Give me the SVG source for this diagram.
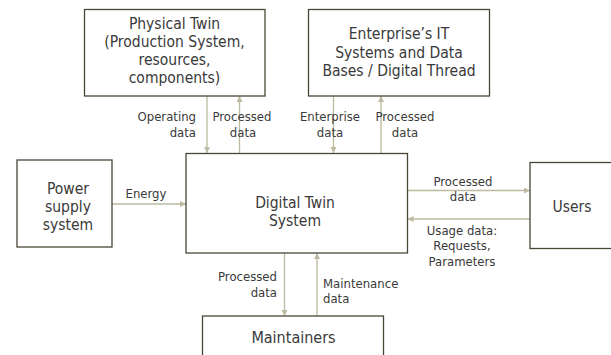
<svg xmlns="http://www.w3.org/2000/svg" width="611" height="355" viewBox="0 0 611 355">
<style>
.box{fill:#fff;stroke:#4a4637;stroke-width:1.3}
.t{font-family:"DejaVu Sans Condensed","DejaVu Sans",sans-serif;font-size:15.5px;fill:#3a3a3a;text-anchor:middle}
.l{font-family:"DejaVu Sans Condensed","DejaVu Sans",sans-serif;font-size:13px;fill:#3a3a3a}
.c{stroke:#bcbaa0;stroke-width:1.3;fill:none;marker-end:url(#ah)}
</style>
<defs>
<marker id="ah" markerUnits="userSpaceOnUse" markerWidth="8" markerHeight="8" refX="6" refY="3" orient="auto">
<path d="M0,0 L6,3 L0,6 Z" fill="#bcbaa0"/>
</marker>
</defs>
<rect width="611" height="355" fill="#fff"/>
<g id="connectors">
<line class="c" x1="207" y1="96" x2="207" y2="153"/>
<line class="c" x1="239.5" y1="153" x2="239.5" y2="96"/>
<line class="c" x1="333.5" y1="96" x2="333.5" y2="153"/>
<line class="c" x1="381" y1="153" x2="381" y2="96"/>
<line class="c" x1="112" y1="204" x2="186" y2="204"/>
<line class="c" x1="407.5" y1="190.5" x2="530" y2="190.5"/>
<line class="c" x1="530" y1="219" x2="407.5" y2="219"/>
<line class="c" x1="284.5" y1="253" x2="284.5" y2="316"/>
<line class="c" x1="317" y1="316" x2="317" y2="253"/>
</g>
<g id="labels">
<text class="l" text-anchor="end" x="196" y="121">Operating</text>
<text class="l" text-anchor="end" x="196" y="137">data</text>
<text class="l" text-anchor="middle" x="242" y="121">Processed</text>
<text class="l" text-anchor="middle" x="243" y="137">data</text>
<text class="l" text-anchor="middle" x="330" y="121">Enterprise</text>
<text class="l" text-anchor="middle" x="330" y="137">data</text>
<text class="l" text-anchor="middle" x="405" y="121">Processed</text>
<text class="l" text-anchor="middle" x="405" y="137">data</text>
<text class="l" text-anchor="middle" x="146" y="198">Energy</text>
<text class="l" text-anchor="middle" x="463" y="186">Processed</text>
<text class="l" text-anchor="middle" x="463" y="201">data</text>
<text class="l" text-anchor="middle" x="462" y="235">Usage data:</text>
<text class="l" text-anchor="middle" x="462" y="250">Requests,</text>
<text class="l" text-anchor="middle" x="462" y="266">Parameters</text>
<text class="l" text-anchor="end" x="277" y="281">Processed</text>
<text class="l" text-anchor="end" x="277" y="297">data</text>
<text class="l" x="323" y="288">Maintenance</text>
<text class="l" x="323" y="303">data</text>
</g>
<g id="physical-twin">
<rect class="box" x="84.5" y="9.5" width="180.5" height="86.5"/>
<text class="t" x="174.5" y="29">Physical Twin</text>
<text class="t" x="174.5" y="47">(Production System,</text>
<text class="t" x="174.5" y="65">resources,</text>
<text class="t" x="174.5" y="83">components)</text>
</g>
<g id="enterprise-it">
<rect class="box" x="308.5" y="9.5" width="181" height="86.5"/>
<text class="t" x="399" y="39">Enterprise’s IT</text>
<text class="t" x="399" y="57.5">Systems and Data</text>
<text class="t" x="399" y="76">Bases / Digital Thread</text>
</g>
<g id="power-supply">
<rect class="box" x="17" y="160" width="95" height="87"/>
<text class="t" x="68" y="194">Power</text>
<text class="t" x="68" y="212">supply</text>
<text class="t" x="68" y="230">system</text>
</g>
<g id="digital-twin">
<rect class="box" x="186" y="153.5" width="221.5" height="99.5"/>
<text class="t" x="295" y="207.5">Digital Twin</text>
<text class="t" x="295" y="226">System</text>
</g>
<g id="users">
<rect class="box" x="530" y="162.5" width="110" height="86"/>
<text class="t" x="572" y="212">Users</text>
</g>
<g id="maintainers">
<rect class="box" x="202.5" y="316" width="181" height="60"/>
<text class="t" x="293.5" y="343" style="font-size:16px">Maintainers</text>
</g>
</svg>
